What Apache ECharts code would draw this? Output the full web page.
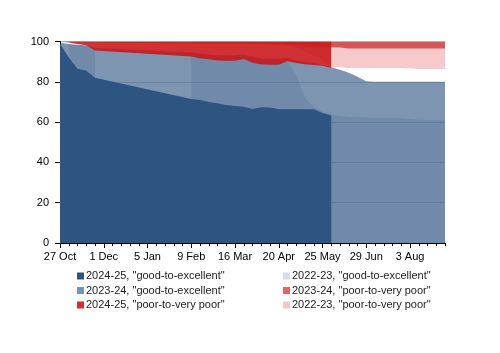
<!DOCTYPE html>
<html>
<head>
    <meta charset="utf-8">
    <title>crop condition</title>
    <script src="https://cdn.jsdelivr.net/npm/echarts@6/dist/echarts.min.js"></script>
</head>
<body style="margin:0">
<div id="main" style="width:500px;height:353px;"></div>
<script type="text/javascript">
// days since 27 Oct, one row per week
var days = [0, 7, 14, 21, 28, 35, 42, 49, 56, 63, 70, 77, 84, 91, 98, 105, 112, 119, 126, 133, 140, 147, 154, 161, 168, 175, 182, 189, 196, 203, 210, 217, 224, 231, 238, 245, 252, 259, 266, 273, 280, 287, 294, 301, 308];
var tickDays = [0, 35, 70, 105, 140, 175, 210, 245, 280];
var tickLabels = ['27 Oct', '1 Dec', '5 Jan', '9 Feb', '16 Mar', '20 Apr', '25 May', '29 Jun', '3 Aug'];
var N = null;

// % good-to-excellent
var good2425 = [99, 92, 86.5, 85.5, 82, N, N, N, N, N, N, N, N, N, N, 71.5, 71, 70, 69.3, 68.5, 68, 67.6, 66.5, 67.4, 67.3, 66.4, 66.4, 66.4, 66.4, 66.4, 64.5, 63.3, N, N, N, N, N, N, N, N, N, N, N, N, N];
var good2324 = [99.5, 98.7, 98.4, 98.2, 96.8, N, N, N, N, N, N, N, N, N, N, 94.5, 94, 93.5, 93.2, 93, 93, 93.5, 92.5, 91.6, 91.5, 91.5, 91.8, 90.6, 89.8, 89.4, 88.3, 87.2, 86, 84.5, 82.5, 80.3, 80, 80, 80, 80, 80, 80, 80, 80, 80];
var good2223 = [N, 98.5, 98.2, 98, 96.5, N, N, N, N, N, N, N, N, N, N, 93, 92.8, 92.5, 92, 92, 92, 92.5, 91.5, 90.8, 90.8, 90.8, 90, 83.5, 72, 67.5, 65.2, 64, 63, 62.7, 62.5, 62.3, 62.2, 62.2, 62.2, 62, 61.5, 61.2, 61, 61, 61];
// % poor-to-very poor
var poor2425 = [0, 0.5, 1.3, 1.8, 4.5, N, N, N, N, N, N, N, N, N, N, 7.5, 8.3, 8.8, 9.4, 9.6, 9.6, 8.7, 10.5, 11.4, 11.6, 11.6, 9.8, 10.7, 11.3, 11.7, 12, 13.1, N, N, N, N, N, N, N, N, N, N, N, N, N];
var poor2324 = [0.3, 0.3, 0.4, 0.5, 0.5, N, N, N, N, N, N, N, N, N, N, 1, 1, 1, 1, 1, 1, 1, 1.2, 1.3, 1.5, 1.6, 1.8, 2, 2.3, 2.6, 2.9, 2.8, 3, 3.5, 3.5, 3.5, 3.5, 3.5, 3.5, 3.5, 3.5, 3.5, 3.5, 3.5, 3.5];
var poor2223 = [N, 0.3, 0.3, 0.3, 0.3, N, N, N, N, N, N, N, N, N, N, 0.8, 0.8, 0.8, 0.8, 0.8, 0.8, 0.8, 0.8, 0.8, 0.8, 0.8, 1.5, 3, 5, 7, 9, 12.6, 12.7, 13.1, 13.1, 13.1, 13.1, 13.1, 13.1, 13.1, 13.4, 13.7, 13.7, 13.7, 13.7];

var names = {
    g2425: '2024-25, "good-to-excellent"',
    g2324: '2023-24, "good-to-excellent"',
    g2223: '2022-23, "good-to-excellent"',
    p2425: '2024-25, "poor-to-very poor"',
    p2324: '2023-24, "poor-to-very poor"',
    p2223: '2022-23, "poor-to-very poor"'
};

function area(name, vals, swatch, fill, poor, connect) {
    var data = days.map(function (d, i) {
        var v = vals[i];
        return [d, v == null ? null : (poor ? 100 - v : v)];
    });
    if (connect) data = data.filter(function (p) { return p[1] != null; });
    return {
        name: name,
        type: 'line',
        data: data,
        symbol: 'none',
        connectNulls: connect,
        silent: true,
        emphasis: { disabled: true },
        itemStyle: { color: swatch },
        lineStyle: { width: 0, opacity: 0 },
        areaStyle: { color: fill, opacity: 1, origin: poor ? 'end' : 'auto' }
    };
}

var font = 'Liberation Sans';
var legendBase = {
    orient: 'vertical', top: 270, padding: 0,
    icon: 'rect', itemWidth: 7, itemHeight: 7, itemGap: 2.5,
    selectedMode: false,
    itemStyle: { borderWidth: 0 },
    textStyle: { fontFamily: font, fontSize: 11, color: '#222', lineHeight: 12, padding: [0, 0, 0, -3] }
};
var myChart = echarts.init(document.getElementById('main'));
var option = {
    animation: false,
    backgroundColor: '#fff',
    grid: { left: 60, right: 55, top: 41.5, bottom: 110 },
    legend: [
        Object.assign({}, legendBase, { left: 77, data: [names.g2425, names.g2324, names.p2425] }),
        Object.assign({}, legendBase, { left: 283, data: [names.g2223, names.p2324, names.p2223] })
    ],
    xAxis: [{
        type: 'value', min: 0, max: 308, interval: 7,
        axisLine: { lineStyle: { color: '#000' } },
        axisTick: { length: 3, lineStyle: { color: '#000' } },
        axisLabel: {
            fontFamily: font, fontSize: 11, color: '#000', margin: 8,
            formatter: function (v) { return v % 35 === 0 ? tickLabels[v / 35] : ''; }
        },
        splitLine: { show: false }
    }, {
        type: 'value', min: 0, max: 308, interval: 35, position: 'bottom',
        axisLine: { show: false },
        axisTick: { length: 5, lineStyle: { color: '#000' }, customValues: tickDays },
        axisLabel: { show: false },
        splitLine: { show: false }
    }],
    yAxis: {
        type: 'value', min: 0, max: 100, interval: 20,
        axisLine: { show: true, lineStyle: { color: '#000' } },
        axisTick: { show: true, length: 5, lineStyle: { color: '#000' } },
        axisLabel: { fontFamily: font, fontSize: 11, color: '#000', margin: 11 },
        splitLine: { lineStyle: { color: '#cfcfcf' } }
    },
    series: [
        area(names.g2223, good2223, '#d6dde8', 'rgba(46,84,130,0.17)', false, false),
        area(names.g2324, good2324, '#7a93b5', 'rgba(46,84,130,0.62)', false, true),
        area(names.g2425, good2425, '#2e5482', '#2e5482', false, true),
        area(names.p2223, poor2223, '#f4c7c9', 'rgba(222,60,60,0.27)', true, false),
        area(names.p2425, poor2425, '#d32f2f', 'rgba(200,20,24,0.88)', true, true),
        area(names.p2324, poor2324, '#dd6666', 'rgba(204,30,30,0.68)', true, true)
    ]
};
myChart.setOption(option);
</script>
</body>
</html>
